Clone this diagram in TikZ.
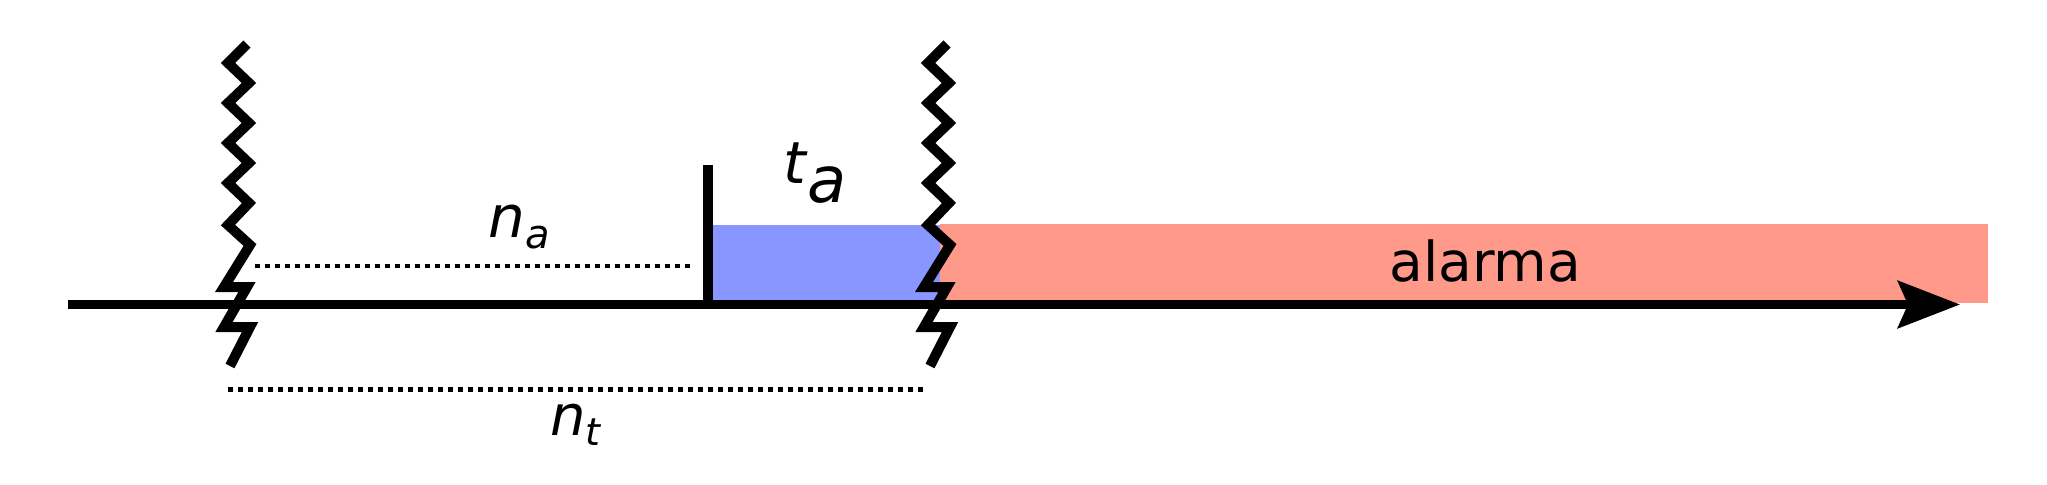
\documentclass[tikz,border=0pt]{standalone}
\usepackage{fontspec}
\setmainfont{DejaVu Sans}
\usetikzlibrary{arrows.meta,positioning}
\definecolor{pastblue}{RGB}{138,150,255}
\definecolor{alarmred}{RGB}{255,153,137}
\newcommand{\breakpath}{(247,44) -- (228,63) -- (249,83) -- (228,103) -- (249,123) -- (228,143) -- (249,163) -- (228,183) -- (249,203) -- (228,225) -- (250,245) -- (224,287) -- (247,287) -- (224,327) -- (250,327) -- (230,366)}

\begin{document}
\begin{tikzpicture}[x=0.5pt,y=-0.5pt,>={Stealth[length=31pt 0,width=23.5pt 0,inset=5pt 0]},
axis/.style={line width=4.5pt},
zig/.style={line width=5pt,line join=miter},
dots/.style={line width=2.4pt,dash pattern=on 2.4pt off 2.6pt},
lbl/.style={anchor=base west,inner sep=0pt}]
\useasboundingbox (0,0) rectangle (2047,484);
\fill[pastblue] (713,225) rectangle (941,304);
\fill[alarmred] (940,224) rectangle (1988,303);
\coordinate (start) at (68,304.5);
\coordinate (tip) at (1960,304.5);
\coordinate (bar) at (708,304.5);
\coordinate (bartop) at (708,165);
\draw[axis,->] (start) -- (tip);
\draw[line width=4.7pt] (bar) -- (bartop);
\foreach \dx in {0,700}
  \draw[zig,shift={(\dx,0)}] \breakpath;
\coordinate (na1) at (255,266);
\coordinate (na2) at (690,266);
\coordinate (nt1) at (228,389.5);
\coordinate (nt2) at (926,389.5);
\draw[dots] (na1) -- (na2);
\draw[dots] (nt1) -- (nt2);
\node[lbl,font=\fontsize{29pt}{30pt}\selectfont] (na) at (488,237) {\textit{n}\raisebox{-5.5pt}{\fontsize{20pt}{20pt}\selectfont\textit{a}}};
\node[lbl,font=\fontsize{28pt}{30pt}\selectfont] (nt) at (550,435) {\textit{n}\raisebox{-5pt}{\fontsize{19pt}{19pt}\selectfont\textit{t}}};
\node[lbl,font=\fontsize{29pt}{30pt}\selectfont] (ta) at (783,183) {\textit{t}\raisebox{-9.5pt}{\fontsize{32pt}{32pt}\selectfont\textit{a}}};
\node[lbl,font=\fontsize{27.5pt}{30pt}\selectfont] (al) at (1389,281) {alarma};
\end{tikzpicture}
\end{document}
